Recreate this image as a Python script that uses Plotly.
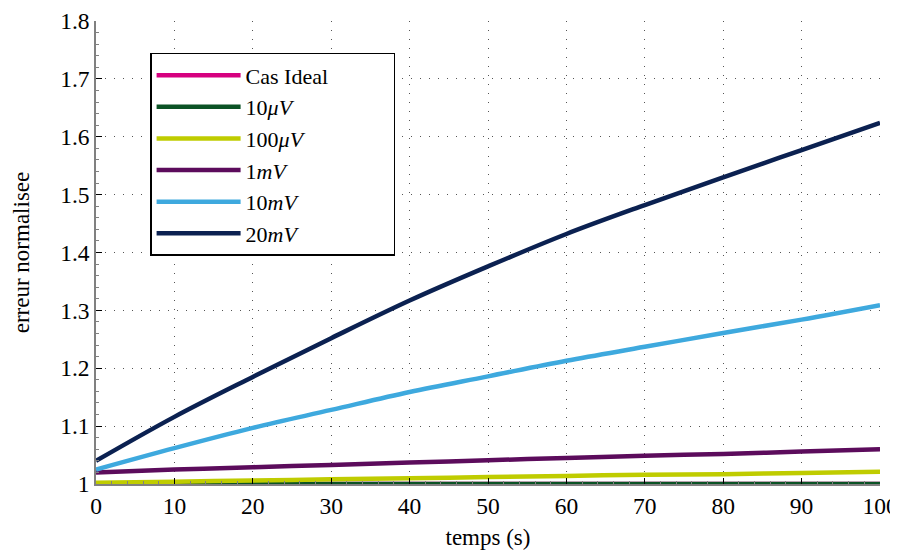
import plotly.graph_objects as go

t = [0, 10, 20, 30, 40, 50, 60, 70, 80, 90, 100]
cas_ideal = [1.0] * 11
v10u = [1.0, 1.0, 1.0, 1.0, 1.0, 1.0, 1.0, 1.0, 1.0, 1.0, 1.0]
v100u = [1.002, 1.004, 1.006, 1.008, 1.010, 1.012, 1.014, 1.016, 1.017, 1.019, 1.021]
v1m = [1.020, 1.025, 1.029, 1.033, 1.037, 1.041, 1.045, 1.049, 1.052, 1.056, 1.060]
v10m = [1.025, 1.062, 1.097, 1.128, 1.159, 1.186, 1.213, 1.237, 1.261, 1.284, 1.309]
v20m = [1.040, 1.116, 1.185, 1.252, 1.317, 1.376, 1.432, 1.482, 1.530, 1.577, 1.624]

names = ["Cas Ideal" + "\u00a0" * 11, "10<i>μV</i>", "100<i>μV</i>", "1<i>mV</i>", "10<i>mV</i>", "20<i>mV</i>"]
series = [cas_ideal, v10u, v100u, v1m, v10m, v20m]
colors = ["#d6007f", "#0b5325", "#bfcc00", "#5c0c5c", "#3ea9de", "#0b2151"]

fig = go.Figure()
for n, s, c in zip(names, series, colors):
    fig.add_trace(go.Scatter(x=t, y=s, name=n, mode="lines",
                             line=dict(color=c, width=4.5, shape="spline")))

font = "Liberation Serif, Times New Roman, serif"
axis_common = dict(
    showgrid=True, gridcolor="#555", gridwidth=1, griddash="1px,8px",
    showline=True, linecolor="#808080", linewidth=1.5,
    ticks="inside", ticklen=6, tickcolor="black", tickwidth=1,
    tickfont=dict(family=font, size=23.5, color="black"),
    zeroline=False, mirror=False, automargin=False,
)
fig.update_xaxes(range=[0, 100], dtick=10, tick0=0,
                 title=dict(text="temps (s)", font=dict(family=font, size=23, color="black"), standoff=11),
                 minor=dict(dtick=2, ticks="inside", ticklen=3, tickcolor="#808080", showgrid=False),
                 **axis_common)
fig.update_yaxes(range=[1, 1.8], dtick=0.1, tick0=1, tickformat="~g",
                 title=dict(text="erreur normalisee", font=dict(family=font, size=23, color="black"), standoff=24),
                 minor=dict(dtick=0.02, ticks="inside", ticklen=3, tickcolor="#808080", showgrid=False),
                 **axis_common)

fig.update_layout(
    width=890, height=544,
    margin=dict(l=88, r=18, t=13, b=68),
    plot_bgcolor="white", paper_bgcolor="white",
    font=dict(family=font, size=23, color="black"),
    legend=dict(x=0.069, y=0.931, xanchor="left", yanchor="top",
                bgcolor="white", bordercolor="black", borderwidth=1.5,
                font=dict(family=font, size=22, color="black"),
                itemwidth=84, tracegroupgap=0),
    showlegend=True,
)
fig.write_html("out.html")
